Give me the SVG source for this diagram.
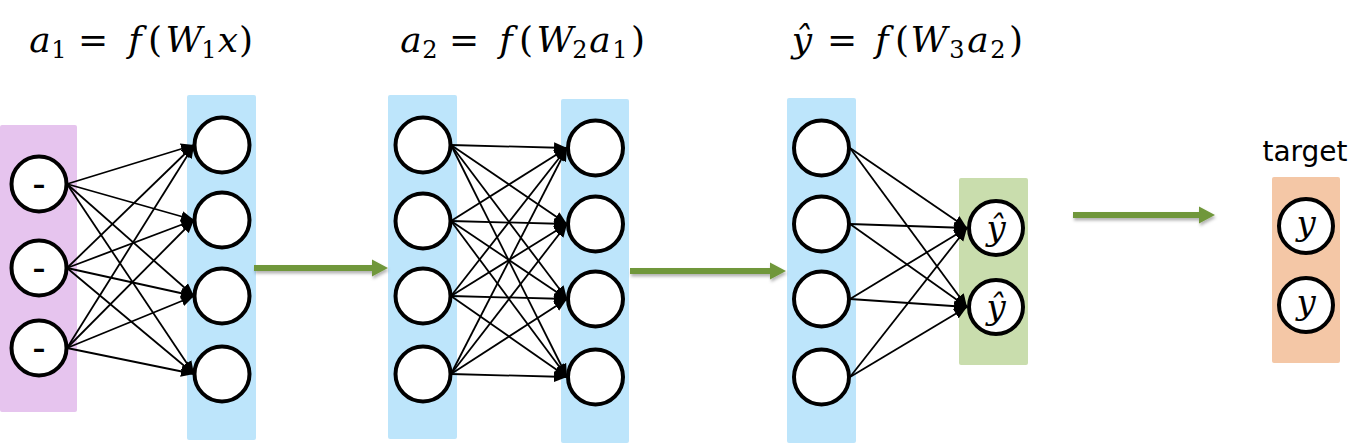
<svg xmlns="http://www.w3.org/2000/svg" width="1367" height="445" viewBox="0 0 1367 445">
<defs>
<style>
.panel{stroke:none}
.pin{fill:#E6C4EE}
.phid{fill:#BDE5FB}
.pout{fill:#C9DDAD}
.ptgt{fill:#F4C7A6}
.node circle{fill:#fff;stroke:#000;stroke-width:4}
.edges line{stroke:#000;stroke-width:1.8;marker-end:url(#ah)}
.flow path{fill:#70973A;filter:url(#sh)}
.math{font-family:"DejaVu Serif","Liberation Serif",serif;font-size:36px;fill:#000}
.math .i{font-style:italic}
.math .sub{font-size:24px}
.lbl{font-family:"DejaVu Serif","Liberation Serif",serif;font-size:34px;font-style:italic;fill:#000}
.dash{font-family:"DejaVu Sans","Liberation Sans",sans-serif;font-size:25px;font-weight:bold;fill:#000}
.cap{font-family:"DejaVu Sans",Verdana,sans-serif;font-size:28px;fill:#000}
</style>
<marker id="ah" markerUnits="userSpaceOnUse" markerWidth="14" markerHeight="12" refX="13" refY="6" orient="auto">
<path d="M0,0.5 L13,6 L0,11.5 Z" fill="#000"/>
</marker>
<filter id="sh" x="-10%" y="-60%" width="120%" height="260%">
<feDropShadow dx="1" dy="2.5" stdDeviation="1.5" flood-color="#000" flood-opacity="0.3"/>
</filter>
</defs>

<!-- formulas -->
<text class="math" text-anchor="middle">
<tspan class="i" x="40" y="52">a</tspan><tspan class="sub" x="59" y="58">1</tspan><tspan x="93" y="52">=</tspan><tspan class="i" x="135" y="52">f</tspan><tspan x="155" y="52">(</tspan><tspan class="i" x="184" y="52">W</tspan><tspan class="sub" x="209" y="58">1</tspan><tspan class="i" x="228" y="52">x</tspan><tspan x="246" y="52">)</tspan>
</text>
<text class="math" text-anchor="middle">
<tspan class="i" x="411" y="52">a</tspan><tspan class="sub" x="430" y="58">2</tspan><tspan x="464" y="52">=</tspan><tspan class="i" x="506" y="52">f</tspan><tspan x="526" y="52">(</tspan><tspan class="i" x="555" y="52">W</tspan><tspan class="sub" x="580" y="58">2</tspan><tspan class="i" x="600" y="52">a</tspan><tspan class="sub" x="620" y="58">1</tspan><tspan x="638" y="52">)</tspan>
</text>
<text class="math" text-anchor="middle">
<tspan class="i" x="802" y="52">ŷ</tspan><tspan x="842" y="52">=</tspan><tspan class="i" x="882" y="52">f</tspan><tspan x="902" y="52">(</tspan><tspan class="i" x="929" y="52">W</tspan><tspan class="sub" x="957" y="58">3</tspan><tspan class="i" x="978" y="52">a</tspan><tspan class="sub" x="998" y="58">2</tspan><tspan x="1016" y="52">)</tspan>
</text>

<!-- panels -->
<rect class="panel pin" x="0" y="125" width="77" height="287" rx="2"/>
<rect class="panel phid" x="187" y="95" width="69" height="345" rx="2"/>
<rect class="panel phid" x="388" y="95" width="69" height="344" rx="2"/>
<rect class="panel phid" x="561" y="99" width="68" height="344" rx="2"/>
<rect class="panel phid" x="787" y="98" width="69" height="345" rx="2"/>
<rect class="panel pout" x="959" y="178" width="69" height="187" rx="2"/>
<rect class="panel ptgt" x="1272" y="177" width="68" height="186" rx="2"/>

<text class="cap" x="1305" y="161" text-anchor="middle">target</text>

<!-- connectors -->
<g id="connectors">
<g class="edges">
<line x1="67" y1="184" x2="194" y2="145"/><line x1="67" y1="184" x2="194" y2="220"/><line x1="67" y1="184" x2="194" y2="296"/><line x1="67" y1="184" x2="194" y2="374"/>
<line x1="67" y1="268" x2="194" y2="145"/><line x1="67" y1="268" x2="194" y2="220"/><line x1="67" y1="268" x2="194" y2="296"/><line x1="67" y1="268" x2="194" y2="374"/>
<line x1="67" y1="348" x2="194" y2="145"/><line x1="67" y1="348" x2="194" y2="220"/><line x1="67" y1="348" x2="194" y2="296"/><line x1="67" y1="348" x2="194" y2="374"/>

<line x1="451" y1="145" x2="567" y2="148"/><line x1="451" y1="145" x2="567" y2="224"/><line x1="451" y1="145" x2="567" y2="299"/><line x1="451" y1="145" x2="567" y2="377"/>
<line x1="451" y1="221" x2="567" y2="148"/><line x1="451" y1="221" x2="567" y2="224"/><line x1="451" y1="221" x2="567" y2="299"/><line x1="451" y1="221" x2="567" y2="377"/>
<line x1="451" y1="296" x2="567" y2="148"/><line x1="451" y1="296" x2="567" y2="224"/><line x1="451" y1="296" x2="567" y2="299"/><line x1="451" y1="296" x2="567" y2="377"/>
<line x1="451" y1="374" x2="567" y2="148"/><line x1="451" y1="374" x2="567" y2="224"/><line x1="451" y1="374" x2="567" y2="299"/><line x1="451" y1="374" x2="567" y2="377"/>

<line x1="850" y1="148" x2="967" y2="228"/><line x1="850" y1="148" x2="967" y2="307"/>
<line x1="850" y1="224" x2="967" y2="228"/><line x1="850" y1="224" x2="967" y2="307"/>
<line x1="850" y1="299" x2="967" y2="228"/><line x1="850" y1="299" x2="967" y2="307"/>
<line x1="850" y1="377" x2="967" y2="228"/><line x1="850" y1="377" x2="967" y2="307"/>
</g>
<g class="flow">
<path d="M254,265 H372 V259.5 L388,268 L372,276.5 V271 H254 Z"/>
<path d="M630,268 H770 V262.5 L786,271 L770,279.5 V274 H630 Z"/>
<path d="M1073,212 H1199 V206.5 L1215,215 L1199,223.5 V218 H1073 Z"/>
</g>
</g>

<!-- nodes -->
<g id="input-layer">
<g id="x1" class="node"><circle cx="39" cy="184" r="27.5"/><text class="dash" x="39" y="193" text-anchor="middle">–</text></g>
<g id="x2" class="node"><circle cx="39" cy="268" r="27.5"/><text class="dash" x="39" y="277" text-anchor="middle">–</text></g>
<g id="x3" class="node"><circle cx="39" cy="348" r="27.5"/><text class="dash" x="39" y="357" text-anchor="middle">–</text></g>
</g>
<g id="hidden-1">
<g id="h1-1" class="node"><circle cx="222" cy="145" r="27.5"/></g>
<g id="h1-2" class="node"><circle cx="222" cy="220" r="27.5"/></g>
<g id="h1-3" class="node"><circle cx="222" cy="296" r="27.5"/></g>
<g id="h1-4" class="node"><circle cx="222" cy="374" r="27.5"/></g>
</g>
<g id="hidden-2">
<g id="h2-1" class="node"><circle cx="423" cy="145" r="27.5"/></g>
<g id="h2-2" class="node"><circle cx="423" cy="221" r="27.5"/></g>
<g id="h2-3" class="node"><circle cx="423" cy="296" r="27.5"/></g>
<g id="h2-4" class="node"><circle cx="423" cy="374" r="27.5"/></g>
</g>
<g id="hidden-3">
<g id="h3-1" class="node"><circle cx="595.5" cy="148" r="27.5"/></g>
<g id="h3-2" class="node"><circle cx="595.5" cy="224" r="27.5"/></g>
<g id="h3-3" class="node"><circle cx="595.5" cy="299" r="27.5"/></g>
<g id="h3-4" class="node"><circle cx="595.5" cy="377" r="27.5"/></g>
</g>
<g id="hidden-4">
<g id="h4-1" class="node"><circle cx="821.5" cy="148" r="27.5"/></g>
<g id="h4-2" class="node"><circle cx="821.5" cy="224" r="27.5"/></g>
<g id="h4-3" class="node"><circle cx="821.5" cy="299" r="27.5"/></g>
<g id="h4-4" class="node"><circle cx="821.5" cy="377" r="27.5"/></g>
</g>
<g id="output-layer">
<g id="yhat-1" class="node"><circle cx="996" cy="228" r="27"/><text class="lbl" x="996" y="240" text-anchor="middle">ŷ</text></g>
<g id="yhat-2" class="node"><circle cx="996" cy="307" r="27"/><text class="lbl" x="996" y="319" text-anchor="middle">ŷ</text></g>
</g>
<g id="target-layer">
<g id="y-1" class="node"><circle cx="1306" cy="226" r="27"/><text class="lbl" x="1306" y="235" text-anchor="middle">y</text></g>
<g id="y-2" class="node"><circle cx="1306" cy="305" r="27"/><text class="lbl" x="1306" y="314" text-anchor="middle">y</text></g>
</g>
</svg>
